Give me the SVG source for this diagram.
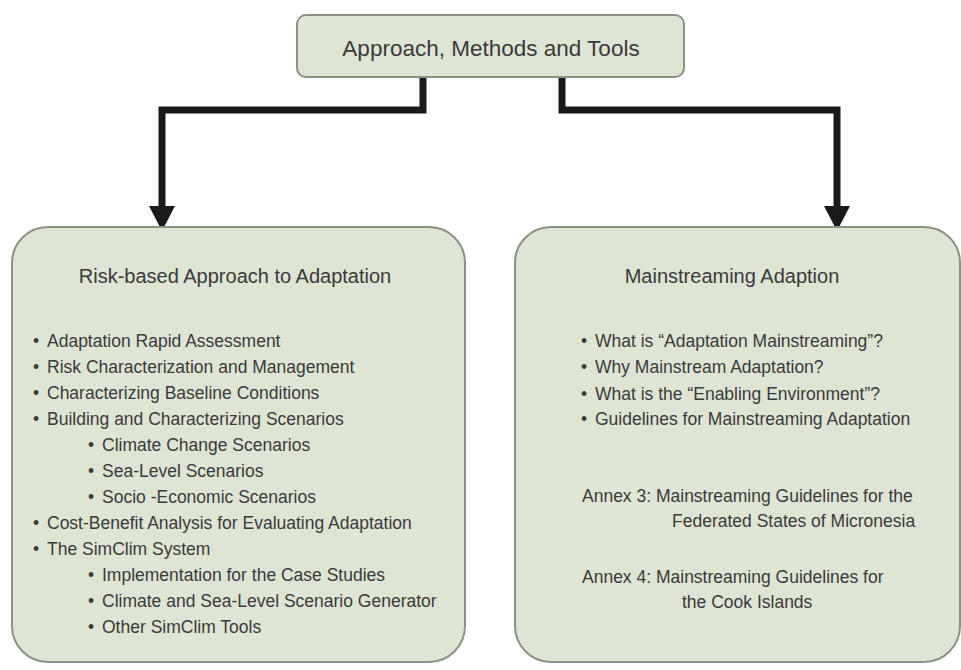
<svg xmlns="http://www.w3.org/2000/svg" width="961" height="670" viewBox="0 0 961 670">
<style>
.box{fill:#dfe5d4;stroke:#8a9284;stroke-width:2}
.t{font-family:"Liberation Sans",Arial,sans-serif;fill:#3a3a3a}
.h{font-size:20px}
.b{font-size:17.5px}
.conn{fill:none;stroke:#1a1a1a;stroke-width:7;stroke-linejoin:miter}
.head{fill:#1a1a1a}
</style>
<rect width="961" height="670" fill="#ffffff"/>
<g id="connectors">
<polyline class="conn" points="423,77 423,110 162,110 162,208"/>
<polygon class="head" points="149,206 175,206 162,231"/>
<polyline class="conn" points="562,77 562,110 837,110 837,208"/>
<polygon class="head" points="824,206 850,206 837,231"/>
</g>
<g id="top">
<rect class="box" x="297" y="15" width="387" height="62" rx="9"/>
<text class="t" x="491" y="56" font-size="22.5" text-anchor="middle">Approach, Methods and Tools</text>
</g>
<g id="risk">
<rect class="box" x="12" y="227" width="453" height="435" rx="36"/>
<text class="t h" x="235" y="283" text-anchor="middle">Risk-based Approach to Adaptation</text>
<g class="t b">
<text y="347"><tspan x="33">•</tspan><tspan x="47">Adaptation Rapid Assessment</tspan></text>
<text y="373"><tspan x="33">•</tspan><tspan x="47">Risk Characterization and Management</tspan></text>
<text y="399"><tspan x="33">•</tspan><tspan x="47">Characterizing Baseline Conditions</tspan></text>
<text y="425"><tspan x="33">•</tspan><tspan x="47">Building and Characterizing Scenarios</tspan></text>
<text y="451"><tspan x="88">•</tspan><tspan x="102">Climate Change Scenarios</tspan></text>
<text y="477"><tspan x="88">•</tspan><tspan x="102">Sea-Level Scenarios</tspan></text>
<text y="503"><tspan x="88">•</tspan><tspan x="102">Socio -Economic Scenarios</tspan></text>
<text y="529"><tspan x="33">•</tspan><tspan x="47">Cost-Benefit Analysis for Evaluating Adaptation</tspan></text>
<text y="555"><tspan x="33">•</tspan><tspan x="47">The SimClim System</tspan></text>
<text y="581"><tspan x="88">•</tspan><tspan x="102">Implementation for the Case Studies</tspan></text>
<text y="607"><tspan x="88">•</tspan><tspan x="102">Climate and Sea-Level Scenario Generator</tspan></text>
<text y="633"><tspan x="88">•</tspan><tspan x="102">Other SimClim Tools</tspan></text>
</g>
</g>
<g id="mainstream">
<rect class="box" x="515" y="227" width="445" height="435" rx="36"/>
<text class="t h" x="732" y="283" text-anchor="middle">Mainstreaming Adaption</text>
<g class="t b">
<text y="347"><tspan x="581">•</tspan><tspan x="595">What is “Adaptation Mainstreaming”?</tspan></text>
<text y="373"><tspan x="581">•</tspan><tspan x="595">Why Mainstream Adaptation?</tspan></text>
<text y="400"><tspan x="581">•</tspan><tspan x="595">What is the “Enabling Environment”?</tspan></text>
<text y="425"><tspan x="581">•</tspan><tspan x="595">Guidelines for Mainstreaming Adaptation</tspan></text>
<text x="582" y="502">Annex 3: Mainstreaming Guidelines for the</text>
<text x="672" y="527">Federated States of Micronesia</text>
<text x="582" y="583">Annex 4: Mainstreaming Guidelines for</text>
<text x="682" y="608">the Cook Islands</text>
</g>
</g>
</svg>
